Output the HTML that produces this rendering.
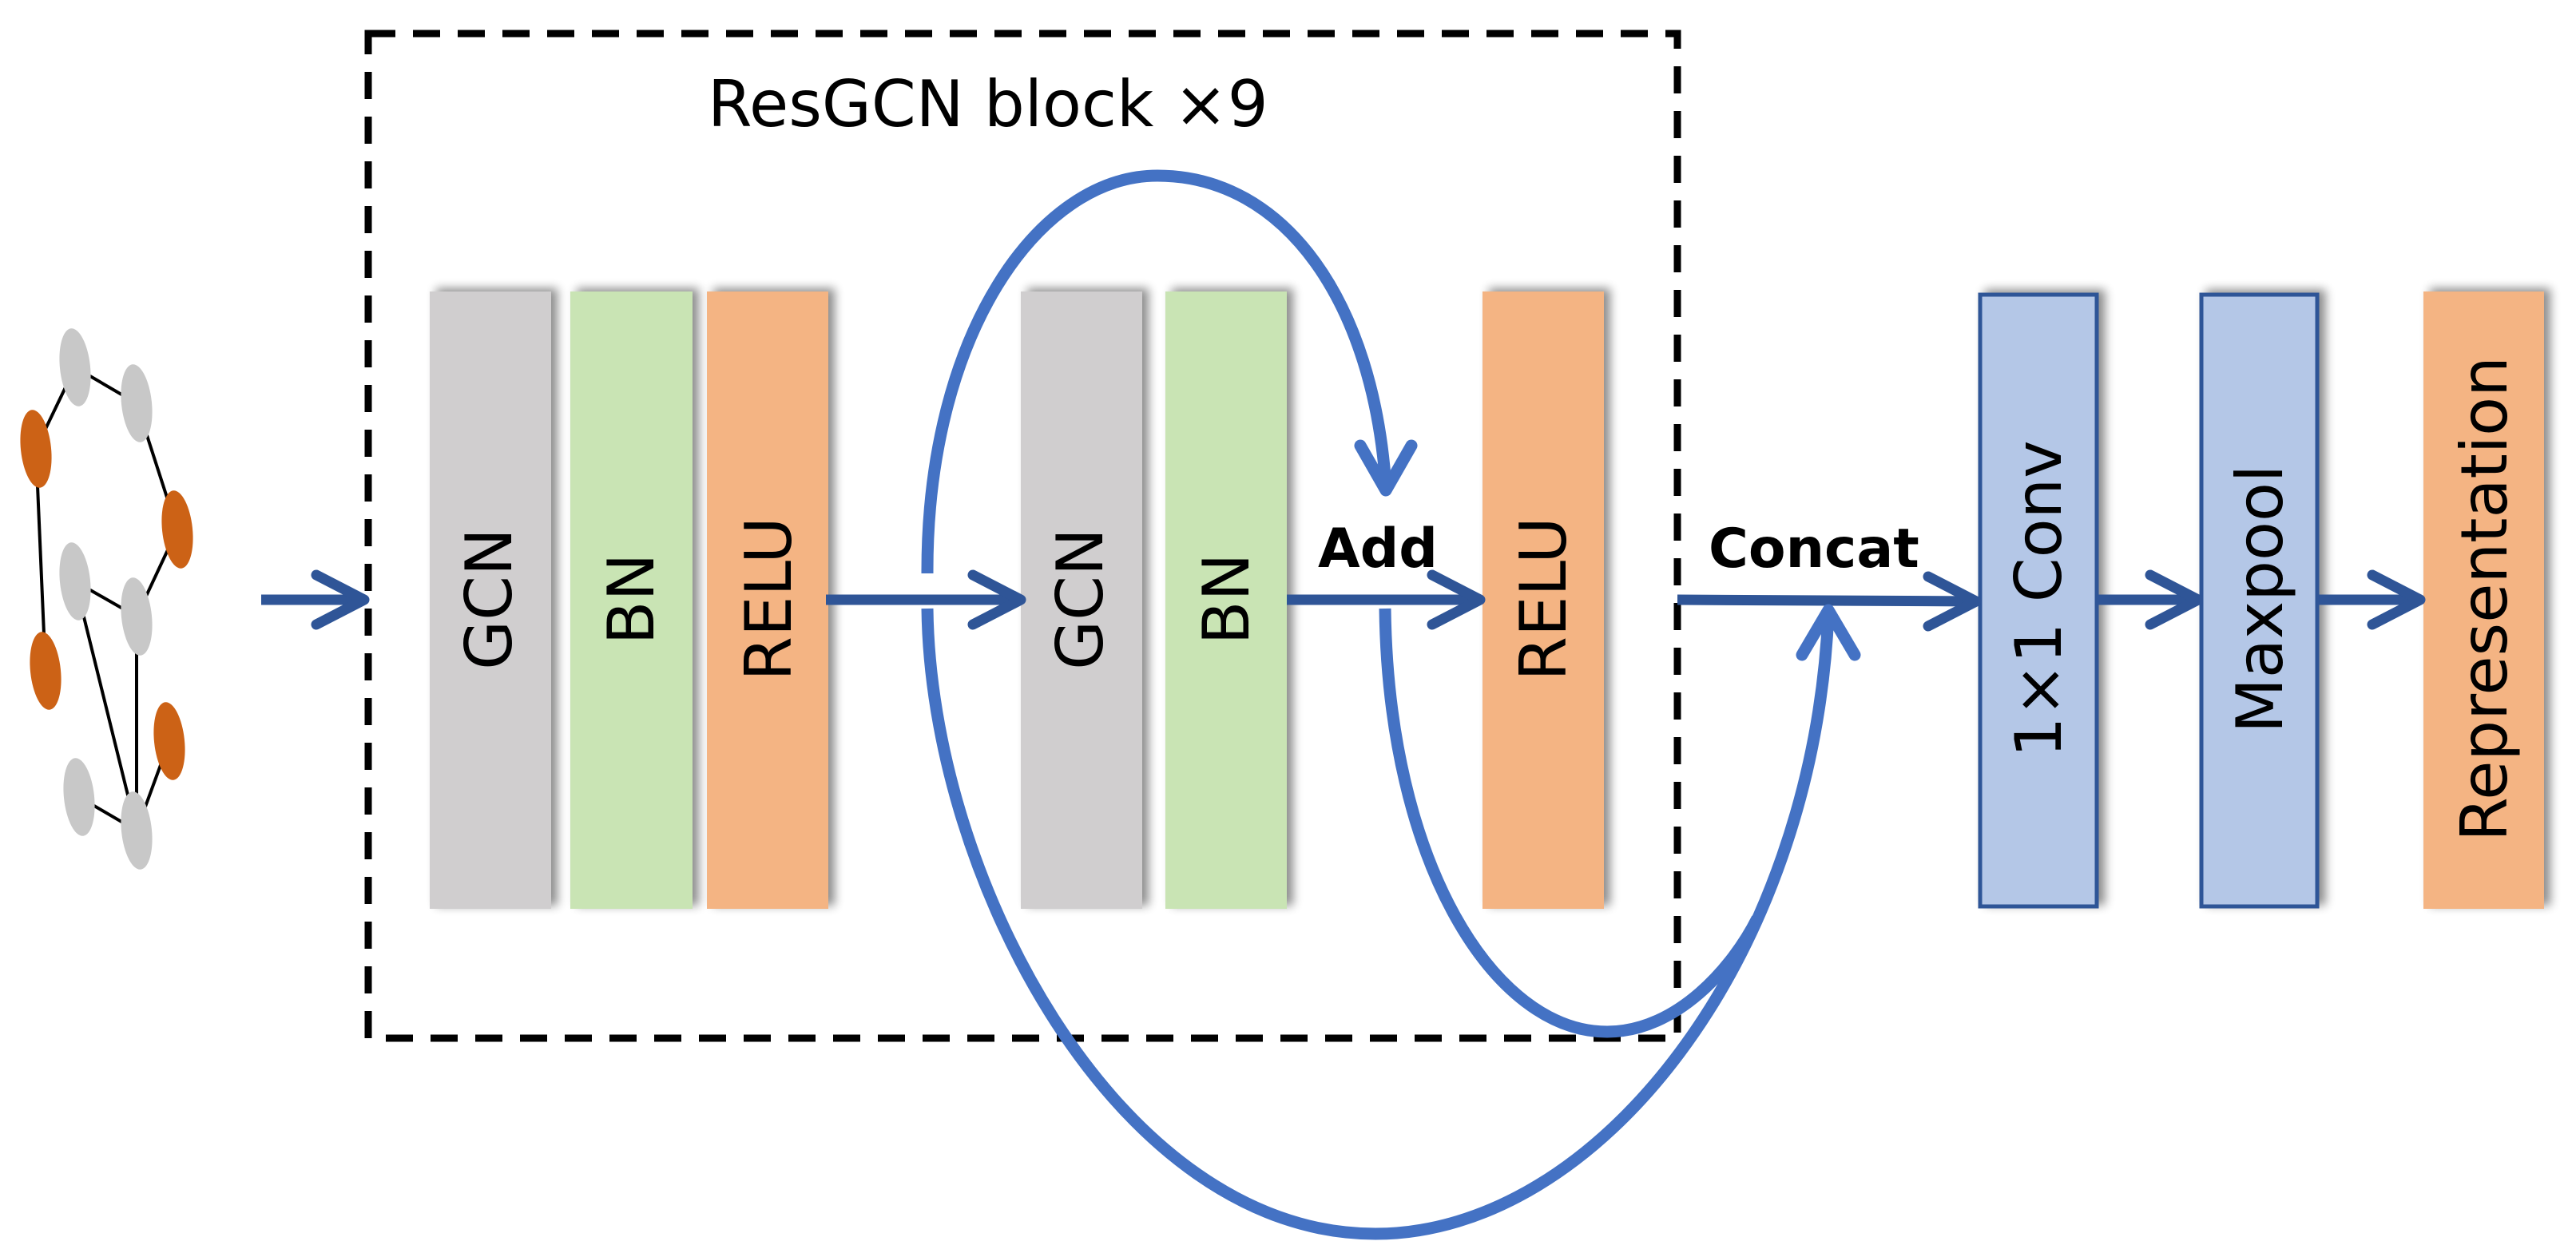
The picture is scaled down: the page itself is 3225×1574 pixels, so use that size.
<!DOCTYPE html>
<html><head><meta charset="utf-8"><style>
html,body{margin:0;padding:0;background:#fff;}
svg{display:block;}
text{font-family:"DejaVu Sans","Liberation Sans",sans-serif;}
</style></head><body>
<svg width="3225" height="1574" viewBox="0 0 3225 1574" xmlns="http://www.w3.org/2000/svg">
<defs>
<filter id="sh" x="-20%" y="-10%" width="140%" height="120%">
<feGaussianBlur in="SourceAlpha" stdDeviation="6"/>
<feOffset dx="8" dy="-4" result="b"/>
<feComponentTransfer><feFuncA type="linear" slope="0.45"/></feComponentTransfer>
<feMerge><feMergeNode/><feMergeNode in="SourceGraphic"/></feMerge>
</filter>
</defs>
<g stroke="#000" stroke-width="4">
<line x1="94" y1="460" x2="171" y2="505"/>
<line x1="94" y1="460" x2="45" y2="562"/>
<line x1="171" y1="505" x2="222" y2="663"/>
<line x1="222" y1="663" x2="171" y2="772"/>
<line x1="94" y1="728" x2="171" y2="772"/>
<line x1="45" y1="562" x2="57" y2="840"/>
<line x1="94" y1="728" x2="171" y2="1040"/>
<line x1="171" y1="772" x2="171" y2="1040"/>
<line x1="212" y1="928" x2="171" y2="1040"/>
<line x1="99" y1="998" x2="171" y2="1040"/>
</g>
<g>
<ellipse cx="94" cy="460" rx="19" ry="49" fill="#c8c8c8" transform="rotate(-6 94 460)"/>
<ellipse cx="171" cy="505" rx="19" ry="49" fill="#c8c8c8" transform="rotate(-6 171 505)"/>
<ellipse cx="45" cy="562" rx="19" ry="49" fill="#cc6216" transform="rotate(-6 45 562)"/>
<ellipse cx="222" cy="663" rx="19" ry="49" fill="#cc6216" transform="rotate(-6 222 663)"/>
<ellipse cx="94" cy="728" rx="19" ry="49" fill="#c8c8c8" transform="rotate(-6 94 728)"/>
<ellipse cx="171" cy="772" rx="19" ry="49" fill="#c8c8c8" transform="rotate(-6 171 772)"/>
<ellipse cx="57" cy="840" rx="19" ry="49" fill="#cc6216" transform="rotate(-6 57 840)"/>
<ellipse cx="212" cy="928" rx="19" ry="49" fill="#cc6216" transform="rotate(-6 212 928)"/>
<ellipse cx="99" cy="998" rx="19" ry="49" fill="#c8c8c8" transform="rotate(-6 99 998)"/>
<ellipse cx="171" cy="1040" rx="19" ry="49" fill="#c8c8c8" transform="rotate(-6 171 1040)"/>
</g>
<rect x="461" y="42" width="1639" height="1258" fill="none" stroke="#000" stroke-width="9" stroke-dasharray="34,22"/>
<text x="886" y="158" font-size="80" fill="#000">ResGCN block ×9</text>
<g filter="url(#sh)">
<rect x="538" y="365" width="152" height="773" fill="#d0cecf"/>
<rect x="714" y="365" width="153" height="773" fill="#c9e4b4"/>
<rect x="885" y="365" width="152" height="773" fill="#f4b483"/>
<rect x="1278" y="365" width="152" height="773" fill="#d0cecf"/>
<rect x="1459" y="365" width="152" height="773" fill="#c9e4b4"/>
<rect x="1856" y="365" width="152" height="773" fill="#f4b483"/>
<rect x="2479" y="369" width="146" height="766" fill="#b4c7e7" stroke="#2f5597" stroke-width="5"/>
<rect x="2756" y="369" width="145" height="766" fill="#b4c7e7" stroke="#2f5597" stroke-width="5"/>
<rect x="3034" y="365" width="151" height="773" fill="#f4b483"/>
</g>
<g font-size="80" fill="#000" text-anchor="middle">
<text transform="translate(640,750) rotate(-90)">GCN</text>
<text transform="translate(818,750) rotate(-90)">BN</text>
<text transform="translate(990,750) rotate(-90)">RELU</text>
<text transform="translate(1380,750) rotate(-90)">GCN</text>
<text transform="translate(1563,750) rotate(-90)">BN</text>
<text transform="translate(1960,750) rotate(-90)">RELU</text>
<text transform="translate(2580,750) rotate(-90)">1×1 Conv</text>
<text transform="translate(2857,750) rotate(-90)">Maxpool</text>
<text transform="translate(3138,750) rotate(-90)">Representation</text>
</g>
<g font-size="68" font-weight="bold" fill="#000">
<text x="1650" y="710">Add</text>
<text x="2139" y="710">Concat</text>
</g>
<g stroke="#2f5597" stroke-width="13" fill="none" stroke-linecap="round" stroke-linejoin="round">
<line x1="327" y1="751" x2="456" y2="751" stroke-linecap="butt"/>
<polyline points="396,720 456,751 396,782"/>
<line x1="1034" y1="751" x2="1278" y2="751" stroke-linecap="butt"/>
<polyline points="1218,720 1278,751 1218,782"/>
<line x1="1611" y1="751" x2="1853" y2="751" stroke-linecap="butt"/>
<polyline points="1793,720 1853,751 1793,782"/>
<line x1="2100" y1="751" x2="2474" y2="753" stroke-linecap="butt"/>
<polyline points="2414,722 2474,753 2414,784"/>
<line x1="2626" y1="751" x2="2752" y2="751" stroke-linecap="butt"/>
<polyline points="2692,720 2752,751 2692,782"/>
<line x1="2902" y1="751" x2="3030" y2="751" stroke-linecap="butt"/>
<polyline points="2970,720 3030,751 2970,782"/>
</g>
<g stroke="#4472c4" stroke-width="15" fill="none" stroke-linecap="round" stroke-linejoin="round">
<path d="M1161,718 C1160,420 1300,220 1449,220 C1610,220 1720,380 1735,610" stroke-linecap="butt"/>
<polyline points="1703,558 1735,614 1767,558"/>
<path d="M1161,762 C1165,1100 1400,1545 1722,1545 C2000,1545 2270,1200 2289,768" stroke-linecap="butt"/>
<polyline points="2256,820 2289,764 2322,820"/>
<path d="M1734,762 C1738,1080 1870,1292 2012,1292 C2100,1292 2170,1210 2200,1150" stroke-linecap="butt"/>
</g>
</svg>
</body></html>
